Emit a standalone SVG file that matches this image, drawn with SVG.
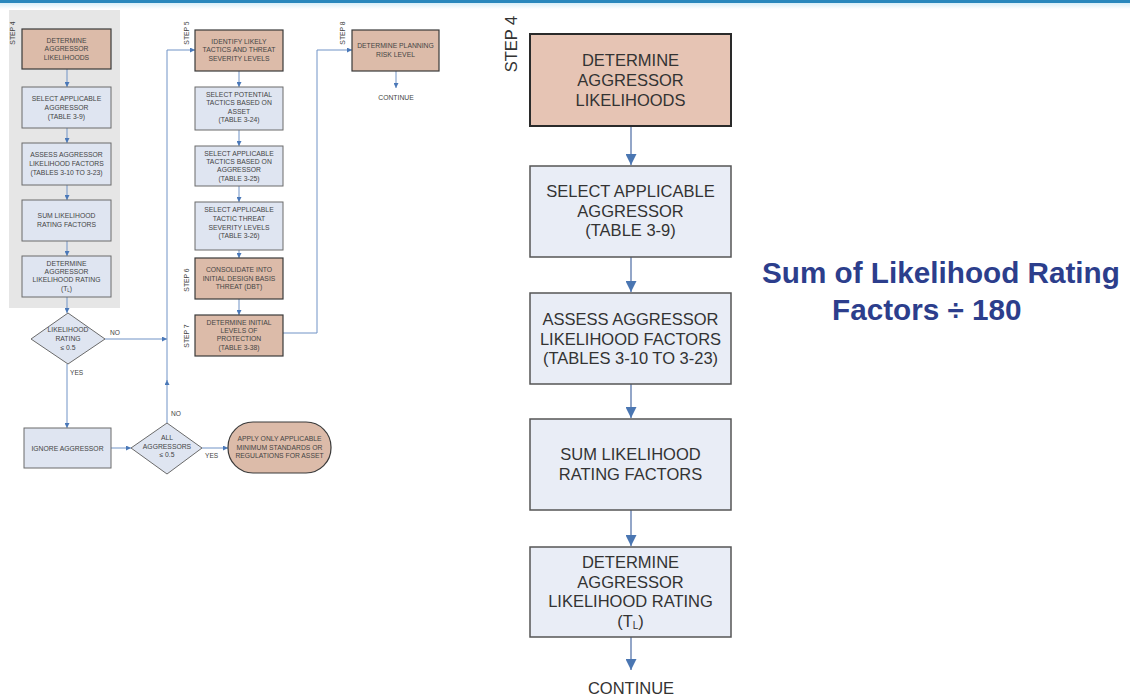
<svg xmlns="http://www.w3.org/2000/svg" width="1130" height="698" viewBox="0 0 1130 698">
  <defs>
    <marker id="ah" viewBox="0 0 10 10" refX="10" refY="5" markerWidth="5" markerHeight="5" orient="auto" markerUnits="userSpaceOnUse">
      <path d="M0,0 L10,5 L0,10 z" fill="#4a78b8"/>
    </marker>
    <marker id="ahBig" viewBox="0 0 10 10" refX="10" refY="5" markerWidth="14" markerHeight="11" orient="auto" markerUnits="userSpaceOnUse">
      <path d="M0,0 L10,5 L0,10 z" fill="#4a76b2"/>
    </marker>
    <linearGradient id="topFade" x1="0" y1="0" x2="0" y2="1">
      <stop offset="0" stop-color="#d8eef8"/>
      <stop offset="1" stop-color="#ffffff"/>
    </linearGradient>
    <style>
      .sm { font-family: "Liberation Sans", Arial, sans-serif; font-size: 6.8px; fill: #444; text-anchor: middle; }
      .smL { font-family: "Liberation Sans", Arial, sans-serif; font-size: 6.6px; fill: #444; }
      .lg { font-family: "Liberation Sans", Arial, sans-serif; font-size: 16.5px; fill: #333; text-anchor: middle; }
      .peach { fill: #dcbba9; stroke: #3a3a3a; stroke-width: 1.2; }
      .blue { fill: #dfe5f1; stroke: #6b6b6b; stroke-width: 1; }
      .peachL { fill: #e6c4b4; stroke: #2a2a2a; stroke-width: 2; }
      .blueL { fill: #e9edf6; stroke: #555; stroke-width: 1.5; }
      .ln { fill: none; stroke: #7193c6; stroke-width: 1; }
      .lnL { fill: none; stroke: #6f89b6; stroke-width: 1.5; }
      .note { font-family: "Liberation Sans", Arial, sans-serif; font-weight: bold; font-size: 29.7px; fill: #2c3e8c; }
    </style>
  </defs>

  <rect x="0" y="0" width="1130" height="698" fill="#ffffff"/>
  <rect x="0" y="3" width="1130" height="6" fill="url(#topFade)"/>
  <rect x="0" y="0" width="1130" height="3" fill="#2a88bd"/>

  <!-- ===== Overview flowchart (small) ===== -->
  <rect id="step4-panel" x="9" y="10" width="111" height="298" fill="#e6e6e6"/>

  <g id="connectors-small">
    <line class="ln" x1="67" y1="69" x2="67" y2="87" marker-end="url(#ah)"/>
    <line class="ln" x1="67" y1="128" x2="67" y2="143" marker-end="url(#ah)"/>
    <line class="ln" x1="67" y1="185" x2="67" y2="200" marker-end="url(#ah)"/>
    <line class="ln" x1="67" y1="241" x2="67" y2="256" marker-end="url(#ah)"/>
    <line class="ln" x1="67" y1="297" x2="67" y2="313" marker-end="url(#ah)"/>
    <line class="ln" x1="67" y1="364" x2="67" y2="428" marker-end="url(#ah)"/>
    <line class="ln" x1="105" y1="339" x2="167" y2="339" marker-end="url(#ah)"/>
    <line class="ln" x1="111" y1="448" x2="131" y2="448" marker-end="url(#ah)"/>
    <line class="ln" x1="167" y1="423" x2="167" y2="380" marker-end="url(#ah)"/>
    <polyline class="ln" points="167,382 167,50 195,50" marker-end="url(#ah)"/>
    <line class="ln" x1="202" y1="448" x2="228" y2="448" marker-end="url(#ah)"/>
    <line class="ln" x1="239" y1="71" x2="239" y2="87" marker-end="url(#ah)"/>
    <line class="ln" x1="239" y1="130" x2="239" y2="146" marker-end="url(#ah)"/>
    <line class="ln" x1="239" y1="186" x2="239" y2="202" marker-end="url(#ah)"/>
    <line class="ln" x1="239" y1="250" x2="239" y2="258" marker-end="url(#ah)"/>
    <line class="ln" x1="239" y1="299" x2="239" y2="315" marker-end="url(#ah)"/>
    <polyline class="ln" points="283,333 317,333 317,50 352,50" marker-end="url(#ah)"/>
    <line class="ln" x1="396" y1="71" x2="396" y2="88" marker-end="url(#ah)"/>
    <text class="smL" x="110" y="335">NO</text>
    <text class="smL" x="70" y="375">YES</text>
    <text class="smL" x="171" y="416">NO</text>
    <text class="smL" x="205" y="458">YES</text>
  </g>

  <text class="sm" transform="translate(15,33) rotate(-90)">STEP 4</text>
  <g id="s-determine-likelihoods">
    <rect class="peach" x="22" y="29" width="89" height="40"/>
    <text class="sm" x="66.5" y="42.5">DETERMINE</text>
    <text class="sm" x="66.5" y="51">AGGRESSOR</text>
    <text class="sm" x="66.5" y="59.5">LIKELIHOODS</text>
  </g>
  <g id="s-select-aggressor">
    <rect class="blue" x="22" y="87" width="89" height="41"/>
    <text class="sm" x="66.5" y="100.5">SELECT APPLICABLE</text>
    <text class="sm" x="66.5" y="109.5">AGGRESSOR</text>
    <text class="sm" x="66.5" y="118.5">(TABLE 3-9)</text>
  </g>
  <g id="s-assess-factors">
    <rect class="blue" x="22" y="143" width="89" height="42"/>
    <text class="sm" x="66.5" y="156.5">ASSESS AGGRESSOR</text>
    <text class="sm" x="66.5" y="165.5">LIKELIHOOD FACTORS</text>
    <text class="sm" x="66.5" y="174.5">(TABLES 3-10 TO 3-23)</text>
  </g>
  <g id="s-sum-factors">
    <rect class="blue" x="22" y="200" width="89" height="41"/>
    <text class="sm" x="66.5" y="218">SUM LIKELIHOOD</text>
    <text class="sm" x="66.5" y="226.5">RATING FACTORS</text>
  </g>
  <g id="s-determine-rating">
    <rect class="blue" x="22" y="256" width="89" height="41"/>
    <text class="sm" x="66.5" y="265.5">DETERMINE</text>
    <text class="sm" x="66.5" y="273.5">AGGRESSOR</text>
    <text class="sm" x="66.5" y="282">LIKELIHOOD RATING</text>
    <text class="sm" x="66.5" y="291">(T<tspan font-size="4.5" dy="1">L</tspan><tspan dy="-1">)</tspan></text>
  </g>
  <g id="s-rating-decision">
    <polygon class="blue" points="68,313 105,339 68,364 31,339"/>
    <text class="sm" x="68" y="332">LIKELIHOOD</text>
    <text class="sm" x="68" y="341">RATING</text>
    <text class="sm" x="68" y="350">≤ 0.5</text>
  </g>
  <g id="s-ignore">
    <rect class="blue" x="24" y="428" width="87" height="40"/>
    <text class="sm" x="67.5" y="450.5">IGNORE AGGRESSOR</text>
  </g>
  <g id="s-all-decision">
    <polygon class="blue" points="167,423 202,448 167,474 131,448"/>
    <text class="sm" x="167" y="439.5">ALL</text>
    <text class="sm" x="167" y="448.5">AGGRESSORS</text>
    <text class="sm" x="167" y="457">≤ 0.5</text>
  </g>
  <g id="s-apply-minimum">
    <rect class="peach" x="228" y="422" width="103" height="51" rx="25" ry="25"/>
    <text class="sm" x="279.5" y="441">APPLY ONLY APPLICABLE</text>
    <text class="sm" x="279.5" y="449.5">MINIMUM STANDARDS OR</text>
    <text class="sm" x="279.5" y="458">REGULATIONS FOR ASSET</text>
  </g>

  <text class="sm" transform="translate(189,33) rotate(-90)">STEP 5</text>
  <g id="s-identify-tactics">
    <rect class="peach" x="195" y="30" width="88" height="41"/>
    <text class="sm" x="239" y="43.5">IDENTIFY LIKELY</text>
    <text class="sm" x="239" y="52">TACTICS AND THREAT</text>
    <text class="sm" x="239" y="60.5">SEVERITY LEVELS</text>
  </g>
  <g id="s-potential-tactics">
    <rect class="blue" x="195" y="87" width="88" height="43"/>
    <text class="sm" x="239" y="96.5">SELECT POTENTIAL</text>
    <text class="sm" x="239" y="105">TACTICS BASED ON</text>
    <text class="sm" x="239" y="113.5">ASSET</text>
    <text class="sm" x="239" y="122">(TABLE 3-24)</text>
  </g>
  <g id="s-applicable-tactics">
    <rect class="blue" x="195" y="146" width="88" height="40"/>
    <text class="sm" x="239" y="155.5">SELECT APPLICABLE</text>
    <text class="sm" x="239" y="163.5">TACTICS BASED ON</text>
    <text class="sm" x="239" y="172">AGGRESSOR</text>
    <text class="sm" x="239" y="180.5">(TABLE 3-25)</text>
  </g>
  <g id="s-tactic-severity">
    <rect class="blue" x="195" y="202" width="88" height="48"/>
    <text class="sm" x="239" y="211.5">SELECT APPLICABLE</text>
    <text class="sm" x="239" y="220.5">TACTIC THREAT</text>
    <text class="sm" x="239" y="229.5">SEVERITY LEVELS</text>
    <text class="sm" x="239" y="238">(TABLE 3-26)</text>
  </g>
  <text class="sm" transform="translate(189,280) rotate(-90)">STEP 6</text>
  <g id="s-consolidate-dbt">
    <rect class="peach" x="195" y="258" width="88" height="41"/>
    <text class="sm" x="239" y="272">CONSOLIDATE INTO</text>
    <text class="sm" x="239" y="280.5">INITIAL DESIGN BASIS</text>
    <text class="sm" x="239" y="289">THREAT (DBT)</text>
  </g>
  <text class="sm" transform="translate(189,336) rotate(-90)">STEP 7</text>
  <g id="s-initial-protection">
    <rect class="peach" x="195" y="315" width="88" height="41"/>
    <text class="sm" x="239" y="324.5">DETERMINE INITIAL</text>
    <text class="sm" x="239" y="332.5">LEVELS OF</text>
    <text class="sm" x="239" y="341">PROTECTION</text>
    <text class="sm" x="239" y="349.5">(TABLE 3-38)</text>
  </g>
  <text class="sm" transform="translate(345,33) rotate(-90)">STEP 8</text>
  <g id="s-planning-risk">
    <rect class="peach" x="352" y="30" width="87" height="41"/>
    <text class="sm" x="395.5" y="47.5">DETERMINE PLANNING</text>
    <text class="sm" x="395.5" y="56.5">RISK LEVEL</text>
  </g>
  <text id="s-continue" class="sm" x="396" y="99.5">CONTINUE</text>

  <!-- ===== Step 4 detail flowchart (large) ===== -->
  <g id="connectors-large">
    <line class="lnL" x1="631" y1="126" x2="631" y2="165" marker-end="url(#ahBig)"/>
    <line class="lnL" x1="631" y1="257" x2="631" y2="292" marker-end="url(#ahBig)"/>
    <line class="lnL" x1="631" y1="384" x2="631" y2="418" marker-end="url(#ahBig)"/>
    <line class="lnL" x1="631" y1="510" x2="631" y2="546" marker-end="url(#ahBig)"/>
    <line class="lnL" x1="631" y1="637" x2="631" y2="670" marker-end="url(#ahBig)"/>
  </g>

  <text class="lg" transform="translate(517,44) rotate(-90)" font-size="14.5">STEP 4</text>
  <g id="determine-likelihoods">
    <rect class="peachL" x="530" y="34" width="201" height="92"/>
    <text class="lg" x="630.5" y="65.5">DETERMINE</text>
    <text class="lg" x="630.5" y="85.5">AGGRESSOR</text>
    <text class="lg" x="630.5" y="105.5">LIKELIHOODS</text>
  </g>
  <g id="select-aggressor">
    <rect class="blueL" x="530" y="166" width="201" height="91"/>
    <text class="lg" x="630.5" y="197">SELECT APPLICABLE</text>
    <text class="lg" x="630.5" y="216.5">AGGRESSOR</text>
    <text class="lg" x="630.5" y="236">(TABLE 3-9)</text>
  </g>
  <g id="assess-factors">
    <rect class="blueL" x="530" y="293" width="201" height="91"/>
    <text class="lg" x="630.5" y="325">ASSESS AGGRESSOR</text>
    <text class="lg" x="630.5" y="344.5">LIKELIHOOD FACTORS</text>
    <text class="lg" x="630.5" y="364">(TABLES 3-10 TO 3-23)</text>
  </g>
  <g id="sum-factors">
    <rect class="blueL" x="530" y="419" width="201" height="91"/>
    <text class="lg" x="630.5" y="460">SUM LIKELIHOOD</text>
    <text class="lg" x="630.5" y="479.5">RATING FACTORS</text>
  </g>
  <g id="determine-rating">
    <rect class="blueL" x="530" y="547" width="201" height="90"/>
    <text class="lg" x="630.5" y="568">DETERMINE</text>
    <text class="lg" x="630.5" y="587.5">AGGRESSOR</text>
    <text class="lg" x="630.5" y="607">LIKELIHOOD RATING</text>
    <text class="lg" x="630.5" y="627">(T<tspan font-size="10" dy="2">L</tspan><tspan dy="-2">)</tspan></text>
  </g>
  <text id="continue" class="lg" x="631" y="694">CONTINUE</text>

  <!-- Formula note -->
  <text class="note" x="762" y="283">Sum of Likelihood Rating</text>
  <text class="note" x="832" y="320">Factors ÷ 180</text>
</svg>
